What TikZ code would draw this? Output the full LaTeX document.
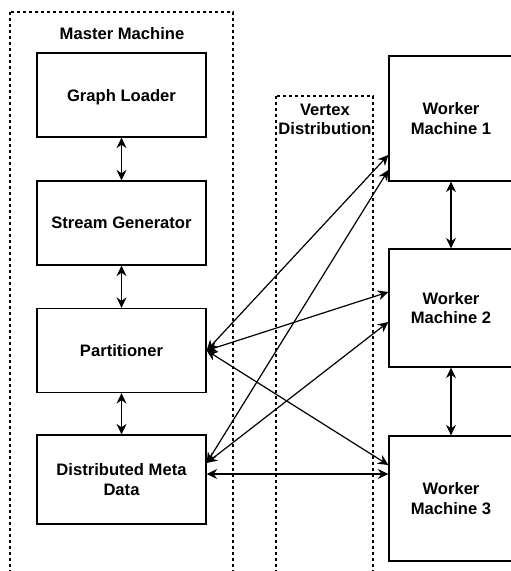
\documentclass[tikz,border=0pt]{standalone}
\usepackage{fontspec}
\setmainfont{Liberation Sans}
\usetikzlibrary{arrows.meta}
\tikzset{
  lbl/.style={font=\fontsize{16.6bp}{19.5bp}\selectfont\bfseries, align=center, inner sep=0pt, text depth=0pt},
  box/.style={lbl, draw, line width=1.3bp, minimum width=169bp, minimum height=84bp},
  wbox/.style={lbl, draw, line width=1.3bp, minimum width=124bp},
  container/.style={draw, line width=1.1bp, dash pattern=on 3bp off 3bp},
  tip/.style={},
  link/.style={line width=1.2bp, {Stealth[length=10.5bp,width=10bp,inset=3.5bp]}-{Stealth[length=10.5bp,width=10bp,inset=3.5bp]}}
}
\begin{document}
\begin{tikzpicture}[x=1bp,y=-1bp]
\useasboundingbox (0,0) rectangle (511,571);
\clip (0,0) rectangle (511,571);
% containers
\draw[container] (10,12) rectangle (233,640);
\draw[container] (276,96) rectangle (373,640);
\node[lbl] (mm) at (122,33) {Master Machine};
\node[lbl] (vd) at (325,119.5) {Vertex\\Distribution};
% master boxes
\node[box] (GL) at (121.5,95) {Graph Loader};
\node[box] (SG) at (121.5,223) {Stream Generator};
\node[box] (P)  at (121.5,350.5) {Partitioner};
\node[box, minimum height=89bp] (D) at (121.5,479.5) {Distributed Meta\\Data};
% workers
\node[wbox, minimum height=125bp] (W1) at (451,118.5) {Worker\\Machine 1};
\node[wbox, minimum height=118bp] (W2) at (451,308) {Worker\\Machine 2};
\node[wbox, minimum height=125bp] (W3) at (451,498.5) {Worker\\Machine 3};
% vertical links
\draw[link] (GL.south) -- (SG.north);
\draw[link] (SG.south) -- (P.north);
\draw[link] (P.south) -- (D.north);
\draw[link] (W1.south) -- (W2.north);
\draw[link] (W2.south) -- (W3.north);
% crossing links
\draw[link] (P.east) -- (W1.west |- 0,155);
\draw[link] (P.east) -- (W2.west |- 0,292);
\draw[link] (P.east) -- (W3.west |- 0,465);
\draw[link] (D.east |- 0,463) -- (W1.west |- 0,170);
\draw[link] (D.east |- 0,463) -- (W2.west |- 0,322);
\draw[link] (D.east |- 0,474) -- (W3.west |- 0,474);
\end{tikzpicture}
\end{document}
